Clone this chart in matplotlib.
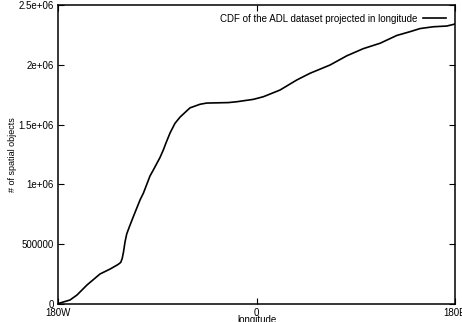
import numpy as np
import matplotlib.pyplot as plt

plt.rcParams['font.family'] = ['Liberation Sans', 'DejaVu Sans']

# longitude (degrees) and cumulative count
lon = [-180, -178.2, -169.1, -162.8, -153.7, -141.9, -132.8, -125.6, -123.1,
       -121.8, -120.6, -119.2, -117.7, -115.5, -111.7, -105.6, -102.6, -96.6, -93.6,
       -87.5, -84.5, -82.1, -78.4, -73.9, -69.4, -66.4, -60.3, -51.2, -45.2,
       -25.6, -18.0, -2.9, 6.2, 21.3, 36.5, 48.5, 66.6, 81.8, 96.8, 112.0,
       127.1, 139.2, 148.3, 160.3, 172.5, 180]
cdf = [0, 8400, 33400, 75000, 159000, 251000, 292000, 330000, 348000,
       380000, 435000, 520000, 585000, 640000, 730000, 870000, 926000, 1070000, 1120000,
       1225000, 1288000, 1346000, 1430000, 1511000, 1562000, 1588000, 1640000, 1670000, 1680000,
       1684000, 1691000, 1711000, 1733000, 1789000, 1873000, 1929000, 1998000, 2075000, 2135000, 2180000,
       2245000, 2277000, 2303000, 2318000, 2324000, 2341000]

xticks = [-180, 0, 180]
xticklabels = ['180W', '0', '180E']
yticks = [0, 500000, 1000000, 1500000, 2000000, 2500000]
yticklabels = ['0', '500000', '1e+06', '1.5e+06', '2e+06', '2.5e+06']

fig = plt.figure(figsize=(4.62, 3.22), dpi=100)
ax = fig.add_axes([0.1255, 0.0559, 0.8595, 0.9286])
ax.plot(lon, cdf, color='black', linewidth=1.2,
        label='CDF of the ADL dataset projected in longitude')
ax.set_xlim(-180, 180)
ax.set_ylim(0, 2500000)
ax.set_xticks(xticks)
ax.set_xticklabels(xticklabels)
ax.set_yticks(yticks)
ax.set_yticklabels(yticklabels)
ax.tick_params(direction='in', length=4, width=0.8, labelsize=7,
               top=True, right=True, pad=3)
for s in ax.spines.values():
    s.set_linewidth(1.1)
ax.set_xlabel('longitude', fontsize=7, labelpad=-2)
ax.set_ylabel('# of spatial objects', fontsize=6.5, labelpad=1)
leg = ax.legend(loc='upper right', frameon=False, fontsize=7,
                markerfirst=False, handlelength=2.4, handletextpad=0.6,
                borderaxespad=0.5)
fig.savefig('out.png', dpi=100)
